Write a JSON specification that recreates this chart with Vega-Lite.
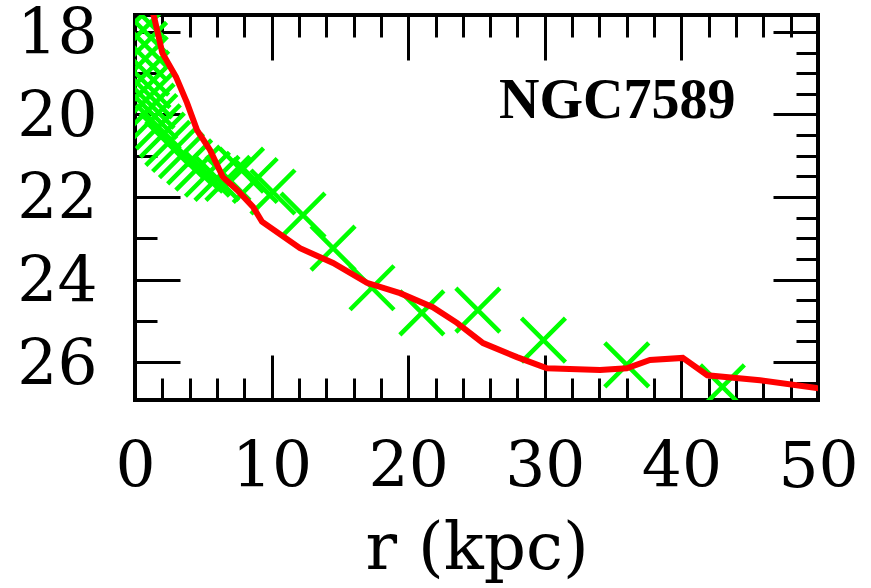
{
  "$schema": "https://vega.github.io/schema/vega-lite/v6.json",
  "width": 683,
  "height": 385,
  "autosize": {"type": "none"},
  "padding": {"left": 135, "top": 15, "right": 53, "bottom": 188},
  "background": "white",
  "config": {
    "view": {"stroke": "black", "strokeWidth": 4},
    "axis": {
      "domain": false,
      "grid": false,
      "tickColor": "black",
      "tickWidth": 3,
      "labelFont": "DejaVu Serif",
      "labelFontSize": 63,
      "labelColor": "black",
      "titleFont": "DejaVu Serif",
      "titleFontSize": 66,
      "titleFontWeight": "normal",
      "titleColor": "black",
      "labelOverlap": false,
      "labelFlush": false
    }
  },
  "datasets": {
    "obs": [
      {"r": 0.5, "mu": 17.6}, {"r": 0.6, "mu": 17.95}, {"r": 0.7, "mu": 18.3}, {"r": 0.75, "mu": 18.65},
      {"r": 0.85, "mu": 19.0}, {"r": 0.95, "mu": 19.3}, {"r": 1.1, "mu": 19.55}, {"r": 1.25, "mu": 19.8},
      {"r": 1.45, "mu": 20.05}, {"r": 1.7, "mu": 20.3}, {"r": 2.0, "mu": 20.5}, {"r": 2.4, "mu": 20.7},
      {"r": 2.9, "mu": 20.85}, {"r": 3.4, "mu": 21.0}, {"r": 4.0, "mu": 21.15}, {"r": 4.6, "mu": 21.3},
      {"r": 5.3, "mu": 21.45}, {"r": 6.0, "mu": 21.55}, {"r": 6.8, "mu": 21.55}, {"r": 7.8, "mu": 21.35},
      {"r": 8.8, "mu": 21.6}, {"r": 10.1, "mu": 21.88}, {"r": 12.3, "mu": 22.44}, {"r": 14.5, "mu": 23.24},
      {"r": 17.35, "mu": 24.2}, {"r": 21.0, "mu": 24.81}, {"r": 25.1, "mu": 24.74}, {"r": 29.9, "mu": 25.47},
      {"r": 36.0, "mu": 26.07}, {"r": 43.0, "mu": 26.6}
    ],
    "model": [
      {"r": 1.2, "mu": 17.45}, {"r": 1.4, "mu": 17.64}, {"r": 2.0, "mu": 18.51}, {"r": 3.0, "mu": 19.09},
      {"r": 3.81, "mu": 19.72}, {"r": 4.54, "mu": 20.38}, {"r": 5.49, "mu": 20.86}, {"r": 6.44, "mu": 21.52},
      {"r": 7.47, "mu": 21.83}, {"r": 8.64, "mu": 22.24}, {"r": 9.3, "mu": 22.6}, {"r": 12.08, "mu": 23.24},
      {"r": 14.5, "mu": 23.6}, {"r": 16.98, "mu": 24.08}, {"r": 19.4, "mu": 24.33}, {"r": 21.8, "mu": 24.67},
      {"r": 23.57, "mu": 25.05}, {"r": 25.48, "mu": 25.54}, {"r": 27.96, "mu": 25.88}, {"r": 30.16, "mu": 26.15},
      {"r": 34.04, "mu": 26.19}, {"r": 36.0, "mu": 26.15}, {"r": 37.7, "mu": 25.95}, {"r": 40.1, "mu": 25.9},
      {"r": 41.9, "mu": 26.32}, {"r": 45.75, "mu": 26.44}, {"r": 49.9, "mu": 26.63}, {"r": 51.0, "mu": 26.66}
    ],
    "label": [{"galaxy": "NGC7589"}]
  },
  "layer": [
    {
      "data": {"name": "obs"},
      "mark": {"type": "point", "shape": "M-1,-1L1,1M-1,1L1,-1", "filled": false, "stroke": "#00ff00", "strokeWidth": 4.5, "size": 1936, "opacity": 1, "clip": true},
      "encoding": {
        "x": {
          "field": "r", "type": "quantitative",
          "scale": {"domain": [0, 50], "nice": false, "zero": false},
          "axis": {
            "orient": "bottom",
            "values": [0,2,4,6,8,10,12,14,16,18,20,22,24,26,28,30,32,34,36,38,40,42,44,46,48,50],
            "format": "d",
            "tickSize": {"condition": {"test": "datum.value % 10 === 0", "value": -45}, "value": -22},
            "labelExpr": "datum.value % 10 === 0 ? datum.label : ''",
            "labelPadding": 81,
            "title": "r (kpc)",
            "titlePadding": -6
          }
        },
        "y": {
          "field": "mu", "type": "quantitative",
          "scale": {"domain": [17.59, 26.92], "reverse": true, "nice": false, "zero": false},
          "axis": {
            "orient": "left",
            "values": [18,18.5,19,19.5,20,20.5,21,21.5,22,22.5,23,23.5,24,24.5,25,25.5,26,26.5],
            "format": "d",
            "tickSize": {"condition": {"test": "datum.value % 2 === 0", "value": -45}, "value": -22},
            "labelExpr": "datum.value % 2 === 0 ? datum.label : ''",
            "labelPadding": 83,
            "labelOffset": 3,
            "title": null
          }
        }
      }
    },
    {
      "data": {"name": "model"},
      "mark": {"type": "line", "color": "#ff0000", "strokeWidth": 6, "clip": true},
      "encoding": {
        "x": {
          "field": "r", "type": "quantitative",
          "scale": {"domain": [0, 50], "nice": false, "zero": false},
          "axis": {
            "orient": "top",
            "values": [0,2,4,6,8,10,12,14,16,18,20,22,24,26,28,30,32,34,36,38,40,42,44,46,48,50],
            "tickSize": {"condition": {"test": "datum.value % 10 === 0", "value": -45}, "value": -22},
            "labels": false,
            "title": null
          }
        },
        "y": {
          "field": "mu", "type": "quantitative",
          "scale": {"domain": [17.59, 26.92], "reverse": true, "nice": false, "zero": false},
          "axis": {
            "orient": "right",
            "values": [18,18.5,19,19.5,20,20.5,21,21.5,22,22.5,23,23.5,24,24.5,25,25.5,26,26.5],
            "tickSize": {"condition": {"test": "datum.value % 2 === 0", "value": -45}, "value": -22},
            "labels": false,
            "title": null
          }
        }
      }
    },
    {
      "data": {"name": "label"},
      "mark": {"type": "text", "font": "Liberation Serif", "fontWeight": "bold", "fontSize": 56, "align": "center", "baseline": "alphabetic", "color": "black"},
      "encoding": {
        "text": {"field": "galaxy"},
        "x": {"datum": 35.3, "type": "quantitative", "axis": null},
        "y": {"datum": 20.08, "type": "quantitative", "axis": null}
      }
    }
  ],
  "resolve": {"axis": {"x": "independent", "y": "independent"}}
}
